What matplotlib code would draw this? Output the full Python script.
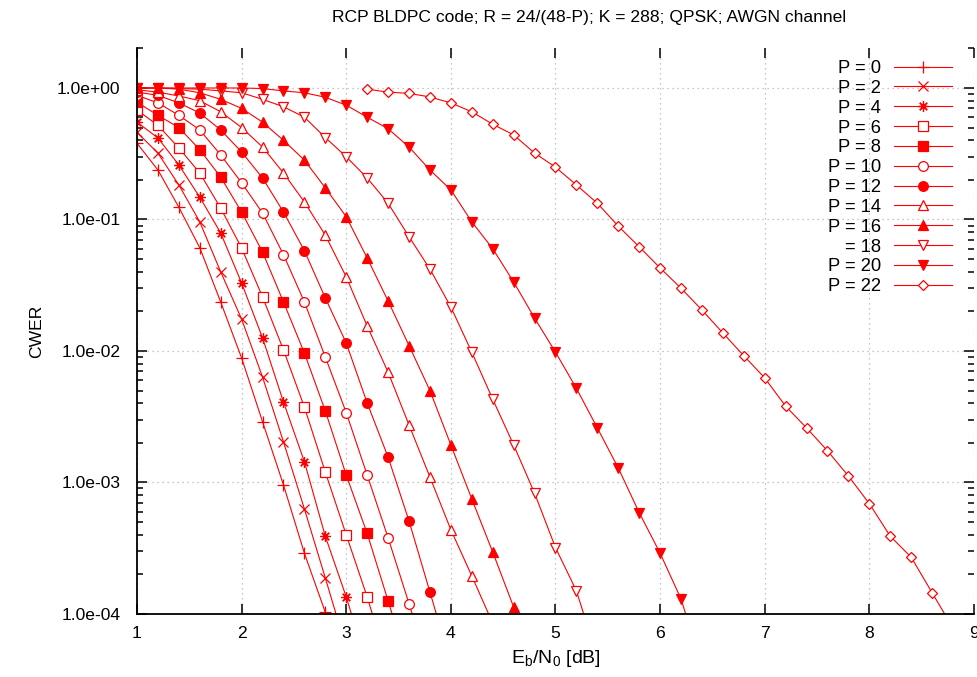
import matplotlib

matplotlib.use("Agg")
import matplotlib.pyplot as plt
from matplotlib.ticker import FuncFormatter, LogLocator, MultipleLocator, NullFormatter

# Eb/N0 grid in dB (0.2 dB steps)
ebn0 = [1.0, 1.2, 1.4, 1.6, 1.8, 2.0, 2.2, 2.4, 2.6, 2.8,
        3.0, 3.2, 3.4, 3.6, 3.8, 4.0, 4.2, 4.4, 4.6, 4.8,
        5.0, 5.2, 5.4, 5.6, 5.8, 6.0, 6.2, 6.4, 6.6, 6.8,
        7.0, 7.2, 7.4, 7.6, 7.8, 8.0, 8.2, 8.4, 8.6, 8.8]

cwer_p0 = [0.38, 0.238, 0.124, 0.061, 0.0236, 0.00885, 0.0029, 0.00096, 2.9e-4, 1.03e-4, 3.5e-5]
cwer_p2 = [0.46, 0.32, 0.183, 0.096, 0.040, 0.0175, 0.00634, 0.00204, 6.3e-4, 1.88e-4, 5.5e-5]
cwer_p4 = [0.55, 0.417, 0.26, 0.148, 0.079, 0.0329, 0.0126, 0.0041, 0.00144, 3.9e-4, 1.35e-4, 4e-5]
cwer_p6 = [0.68, 0.52, 0.35, 0.226, 0.122, 0.0607, 0.0258, 0.0102, 0.00375, 0.0012, 4.0e-4, 1.35e-4, 4e-5]
cwer_p8 = [0.78, 0.62, 0.50, 0.34, 0.21, 0.114, 0.0566, 0.0236, 0.00966, 0.0035, 0.00114, 4.1e-4,
           1.26e-4, 3.8e-5]
cwer_p10 = [0.88, 0.77, 0.62, 0.48, 0.31, 0.19, 0.112, 0.054, 0.0236, 0.009, 0.0034, 0.00114, 3.8e-4,
            1.2e-4, 3.6e-5]
cwer_p12 = [0.93, 0.88, 0.77, 0.645, 0.48, 0.326, 0.207, 0.114, 0.058, 0.0253, 0.0115, 0.00403,
            0.00156, 5.1e-4, 1.47e-4, 4.2e-5]
cwer_p14 = [0.97, 0.93, 0.87, 0.80, 0.66, 0.50, 0.356, 0.226, 0.136, 0.076, 0.0366, 0.0155, 0.0069,
            0.00274, 0.0011, 4.37e-4, 1.95e-4, 8.5e-5]
cwer_p16 = [1.0, 1.0, 0.98, 0.92, 0.82, 0.70, 0.55, 0.40, 0.283, 0.174, 0.105, 0.051, 0.024, 0.011,
            0.005, 0.00193, 7.5e-4, 2.96e-4, 1.13e-4, 3.8e-5]
cwer_p18 = [1.0, 1.0, 0.99, 0.98, 0.95, 0.92, 0.82, 0.72, 0.60, 0.42, 0.30, 0.207, 0.133, 0.074,
            0.042, 0.0216, 0.0098, 0.0043, 0.00193, 8.3e-4, 3.2e-4, 1.5e-4, 4.7e-5]
cwer_p20 = [1.0, 1.0, 1.0, 1.0, 1.0, 1.0, 0.99, 0.95, 0.92, 0.85, 0.74, 0.60, 0.49, 0.356, 0.238,
            0.168, 0.096, 0.06, 0.0335, 0.0178, 0.0098, 0.0052, 0.0026, 0.00129, 5.9e-4, 2.9e-4,
            1.3e-4, 4e-5]
cwer_p22 = [0.98, 0.93, 0.91, 0.855, 0.77, 0.66, 0.53, 0.44, 0.32, 0.25, 0.183, 0.133, 0.089, 0.062,
            0.0428, 0.030, 0.0205, 0.0137, 0.0092, 0.00624, 0.0038, 0.0026, 0.00174, 0.00112, 6.9e-4,
            3.9e-4, 2.7e-4, 1.45e-4, 7.8e-5]

# first Eb/N0 index of each curve (P = 22 starts at 3.2 dB)
start_index = [0, 0, 0, 0, 0, 0, 0, 0, 0, 0, 0, 11]
labels = ["P = 0", "P = 2", "P = 4", "P = 6", "P = 8", "P = 10", "P = 12", "P = 14",
          "P = 16", "= 18", "P = 20", "P = 22"]
curves = [cwer_p0, cwer_p2, cwer_p4, cwer_p6, cwer_p8, cwer_p10, cwer_p12, cwer_p14,
          cwer_p16, cwer_p18, cwer_p20, cwer_p22]

red = "#ff0000"
styles = [
    dict(marker="+", ms=8, mfc=red),
    dict(marker="x", ms=6.5, mfc=red),
    dict(marker=(8, 2, 0), ms=7.5, mfc=red),
    dict(marker="s", ms=6.5, mfc="white"),
    dict(marker="s", ms=6.5, mfc=red),
    dict(marker="o", ms=7, mfc="white"),
    dict(marker="o", ms=7, mfc=red),
    dict(marker="^", ms=6.5, mfc="white"),
    dict(marker="^", ms=6.5, mfc=red),
    dict(marker="v", ms=6.5, mfc="white"),
    dict(marker="v", ms=6.5, mfc=red),
    dict(marker="D", ms=5, mfc="white"),
]

plt.rcParams["font.family"] = ["Liberation Sans", "DejaVu Sans"]
plt.rcParams["font.size"] = 12.6

fig = plt.figure(figsize=(9.77, 6.77), dpi=100)
ax = fig.add_axes([0.1402, 0.0931, 0.8567, 0.8354])

for cwer, start, label, style in zip(curves, start_index, labels, styles):
    xs = ebn0[start:start + len(cwer)]
    ax.plot(xs, cwer, color=red, lw=0.8, mec=red, mew=0.9, label=label, **style)

ax.set_yscale("log")
ax.set_xlim(1, 9)
ax.set_ylim(1e-4, 2.0)
ax.xaxis.set_major_locator(MultipleLocator(1))
ax.yaxis.set_major_locator(LogLocator(base=10, numticks=10))
ax.yaxis.set_minor_locator(LogLocator(base=10, subs=range(2, 10), numticks=20))
ax.yaxis.set_minor_formatter(NullFormatter())
ax.yaxis.set_major_formatter(FuncFormatter(lambda v, _: f"{v:.1e}"))

ax.grid(True, which="major", color="#b4b4b4", linestyle=(0, (1, 3)), linewidth=0.9)
ax.spines["top"].set_visible(False)
ax.spines["right"].set_visible(False)
ax.spines["left"].set_linewidth(1.3)
ax.spines["bottom"].set_linewidth(1.3)
ax.tick_params(which="both", direction="in", top=True, right=True, width=1.1)
ax.tick_params(which="major", length=7, labelsize=12.6)
ax.tick_params(which="minor", length=4)
ax.tick_params(axis="y", which="major", pad=12)
ax.tick_params(axis="x", which="major", pad=9)

ax.set_title("RCP BLDPC code; R = 24/(48-P); K = 288; QPSK; AWGN channel",
             fontsize=12.6, pad=19, x=0.54)
ax.set_xlabel("E$_\\mathregular{b}$/N$_\\mathregular{0}$ [dB]", fontsize=14, labelpad=5)
ax.set_ylabel("CWER", fontsize=12.6, labelpad=9)

ax.legend(loc="upper right", bbox_to_anchor=(952 / 977, 1 - 60 / 677),
          bbox_transform=fig.transFigure, frameon=False, markerfirst=False,
          fontsize=13.2, handlelength=3.15, handletextpad=0.72, labelspacing=0.155,
          borderpad=0, borderaxespad=0)

fig.savefig("out.png", dpi=100)
plt.close(fig)
